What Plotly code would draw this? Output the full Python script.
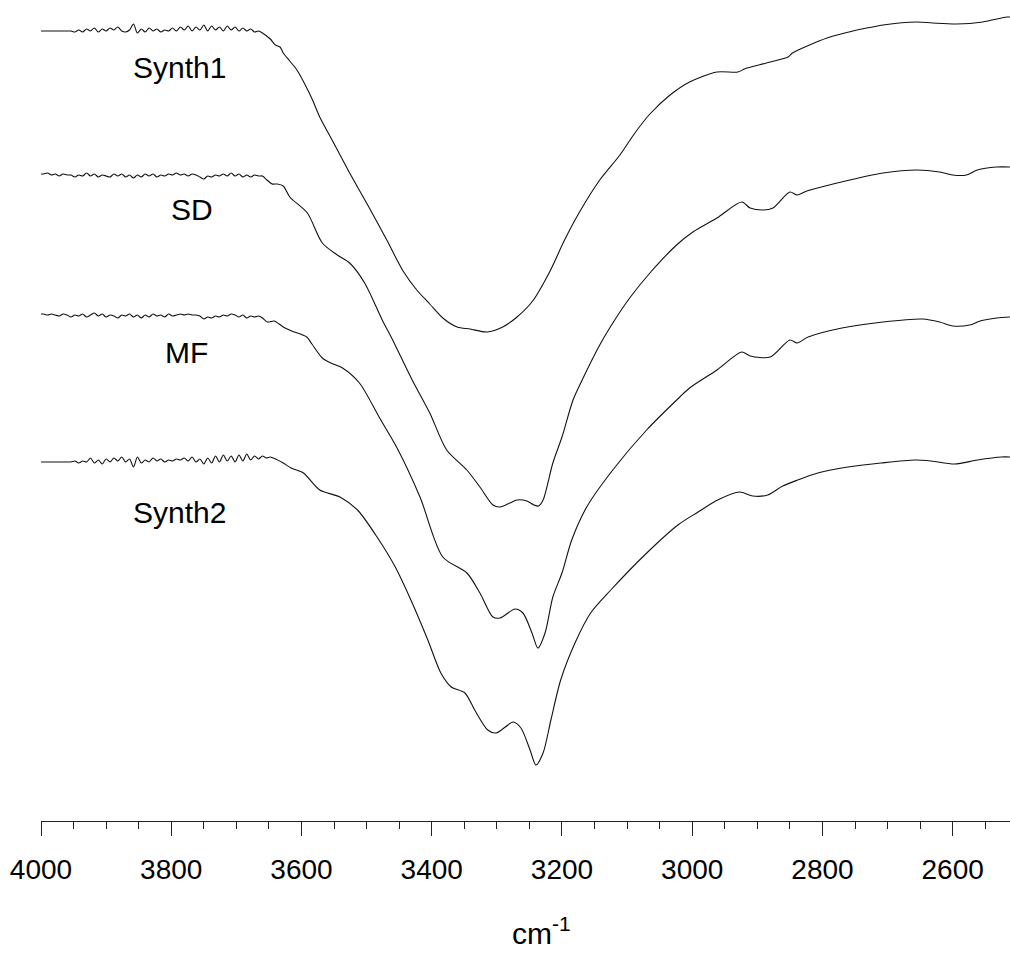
import plotly.graph_objects as go

# Shared wavenumber grid for the flat / noisy high-wavenumber region (cm-1)
NOISE_WN = [4000, 3996, 3990, 3984, 3978, 3972, 3966, 3960, 3954, 3948,
            3942, 3936, 3930, 3924, 3918, 3912, 3906, 3900, 3894, 3888,
            3882, 3876, 3870, 3864, 3858, 3852, 3846, 3840, 3834, 3828,
            3822, 3816, 3810, 3804, 3798, 3792, 3786, 3780, 3774, 3768,
            3762, 3756, 3750, 3744, 3738, 3732, 3726, 3720, 3714, 3708,
            3702, 3696, 3690, 3684, 3678, 3672, 3666, 3660]

# Synth1 (top trace), arbitrary offset intensity units
S1_NOISE = [790, 790, 790, 790, 790, 790, 790, 790, 790, 789,
            791, 789, 792, 790, 793, 789, 792, 790, 793, 791,
            794, 790, 789, 791, 797, 788, 792, 789, 793, 790,
            792, 789, 791, 790, 793, 790, 794, 791, 795, 790,
            794, 791, 796, 790, 795, 791, 794, 790, 795, 791,
            794, 790, 793, 790, 792, 789, 790, 788]
S1_WN = [3648, 3640, 3633, 3628, 3618, 3607, 3595, 3583, 3572, 3553,
         3526, 3500, 3469, 3444, 3423, 3403, 3383, 3361, 3341, 3315,
         3291, 3269, 3245, 3219, 3196, 3173, 3142, 3111, 3088, 3065,
         3034, 3004, 2962, 2930, 2920, 2916, 2880, 2853, 2846, 2793,
         2753, 2723, 2707, 2655, 2631, 2594, 2554, 2517, 2512]
S1_VAL = [782, 776, 774, 768, 760, 751, 737, 721, 704, 681,
          648, 618, 581, 550, 531, 517, 503, 494, 492, 489,
          494, 504, 520, 549, 581, 609, 641, 666, 688, 707,
          726, 739, 749, 749, 752, 753, 759, 764, 768, 783,
          790, 794, 796, 799, 798, 797, 799, 804, 804]

# SD
SD_NOISE = [647, 647, 648, 646, 647, 645, 647, 646, 646, 644,
            646, 645, 648, 645, 647, 644, 646, 645, 644, 647,
            645, 647, 644, 646, 643, 646, 644, 647, 645, 647,
            644, 646, 645, 647, 646, 648, 646, 647, 645, 647,
            646, 644, 642, 645, 644, 646, 645, 647, 645, 648,
            645, 647, 644, 646, 644, 646, 645, 645]
SD_WN = [3653, 3645, 3637, 3628, 3618, 3591, 3568, 3545, 3526, 3503,
         3476, 3460, 3430, 3403, 3377, 3346, 3326, 3306, 3295, 3280,
         3269, 3254, 3243, 3236, 3229, 3214, 3200, 3183, 3169, 3142,
         3119, 3096, 3065, 3024, 2999, 2962, 2924, 2911, 2891, 2876,
         2850, 2839, 2824, 2771, 2707, 2655, 2620, 2600, 2579, 2562,
         2533, 2512]
SD_VAL = [641, 637, 637, 635, 624, 608, 578, 566, 558, 538,
          501, 481, 441, 408, 371, 351, 334, 316, 314, 318,
          321, 320, 316, 315, 321, 358, 384, 421, 441, 476,
          501, 523, 548, 576, 589, 603, 619, 613, 611, 613,
          629, 626, 630, 639, 648, 651, 649, 646, 646, 651,
          654, 654]

# MF
MF_NOISE = [507, 507, 506, 507, 506, 505, 507, 506, 504, 506,
            505, 507, 504, 506, 508, 505, 507, 504, 506, 505,
            503, 506, 505, 507, 504, 506, 503, 506, 504, 507,
            505, 506, 504, 507, 505, 506, 507, 506, 507, 506,
            506, 505, 502, 504, 503, 505, 504, 506, 505, 507,
            506, 504, 506, 503, 505, 504, 505, 503]
MF_WN = [3652, 3642, 3628, 3615, 3592, 3584, 3568, 3555, 3537, 3511,
         3480, 3454, 3418, 3383, 3346, 3326, 3306, 3295, 3272, 3260,
         3246, 3237, 3226, 3214, 3200, 3185, 3162, 3122, 3070, 3019,
         3004, 2962, 2924, 2911, 2880, 2850, 2839, 2822, 2770, 2707,
         2646, 2620, 2600, 2574, 2558, 2532, 2512]
MF_VAL = [499, 500, 494, 490, 484, 477, 463, 458, 453, 438,
          403, 374, 324, 264, 248, 228, 204, 203, 212, 208,
          188, 173, 188, 224, 248, 281, 314, 351, 391, 424,
          433, 451, 469, 465, 464, 481, 478, 484, 493, 499,
          502, 499, 495, 496, 500, 503, 504]

# Synth2 (bottom trace)
S2_NOISE = [359, 359, 359, 359, 359, 359, 359, 359, 359, 360,
            358, 360, 359, 363, 358, 361, 357, 362, 359, 363,
            360, 364, 359, 362, 354, 364, 358, 361, 359, 363,
            360, 362, 359, 361, 360, 362, 361, 363, 360, 364,
            359, 362, 357, 363, 358, 365, 359, 366, 360, 365,
            359, 366, 360, 367, 361, 365, 362, 365]
S2_WN = [3654, 3648, 3640, 3628, 3616, 3597, 3572, 3541, 3514, 3483,
         3456, 3432, 3406, 3386, 3370, 3349, 3334, 3314, 3301, 3287,
         3275, 3263, 3249, 3240, 3229, 3217, 3202, 3180, 3156, 3125,
         3073, 3022, 2991, 2961, 2927, 2907, 2884, 2861, 2838, 2807,
         2761, 2710, 2658, 2633, 2597, 2562, 2525, 2512]
S2_VAL = [363, 364, 362, 358, 353, 348, 331, 324, 311, 283,
          254, 221, 181, 148, 134, 128, 111, 91, 88, 94,
          99, 93, 71, 56, 68, 101, 141, 178, 208, 231,
          266, 296, 309, 321, 329, 325, 326, 335, 341, 348,
          354, 358, 361, 360, 357, 361, 364, 364]

SERIES_NAMES = ["Synth1", "SD", "MF", "Synth2"]
TICK_VALUES = [4000, 3800, 3600, 3400, 3200, 3000, 2800, 2600]
TICK_LABELS = ["4000", "3800", "3600", "3400", "3200", "3000", "2800", "2600"]

FONT = "Liberation Sans, Arial, Helvetica, sans-serif"

series = [
    (S1_NOISE, S1_WN, S1_VAL),
    (SD_NOISE, SD_WN, SD_VAL),
    (MF_NOISE, MF_WN, MF_VAL),
    (S2_NOISE, S2_WN, S2_VAL),
]

fig = go.Figure()
for name, (noise, wn, val) in zip(SERIES_NAMES, series):
    fig.add_trace(go.Scatter(
        x=NOISE_WN + wn, y=noise + val, mode="lines", name=name,
        line=dict(color="#111", width=1.1, shape="spline", smoothing=0.8),
        showlegend=False, hoverinfo="skip"))

# label placements (layout, in data coordinates)
label_pos = {"Synth1": (3787, 754), "SD": (3768, 612),
             "MF": (3776, 469), "Synth2": (3787, 309)}
for name in SERIES_NAMES:
    lx, ly = label_pos[name]
    fig.add_annotation(x=lx, y=ly, xref="x", yref="y", text=name,
                       showarrow=False, xanchor="center", yanchor="middle",
                       font=dict(family=FONT, size=30, color="black"))

fig.add_annotation(x=0.516, y=-0.1596, xref="paper", yref="paper",
                   text="cm<sup>-1</sup>", showarrow=False,
                   xanchor="center", yanchor="bottom",
                   font=dict(family=FONT, size=30, color="black"))

fig.update_layout(
    width=1010, height=954,
    margin=dict(l=41, r=0, t=0, b=133),
    paper_bgcolor="white", plot_bgcolor="white",
    xaxis=dict(
        range=[4000, 2512], showgrid=False, zeroline=False,
        showline=True, linecolor="#222", linewidth=1,
        tickmode="array", tickvals=TICK_VALUES, ticktext=TICK_LABELS,
        ticks="outside", ticklen=14, tickwidth=1, tickcolor="#222",
        ticklabelstandoff=9,
        tickfont=dict(family=FONT, size=28, color="black"),
        minor=dict(ticks="outside", ticklen=7, tickwidth=1,
                   tickcolor="#222", dtick=50, tick0=4000, showgrid=False),
    ),
    yaxis=dict(range=[0, 821], visible=False),
)

fig.write_html("out.html")
